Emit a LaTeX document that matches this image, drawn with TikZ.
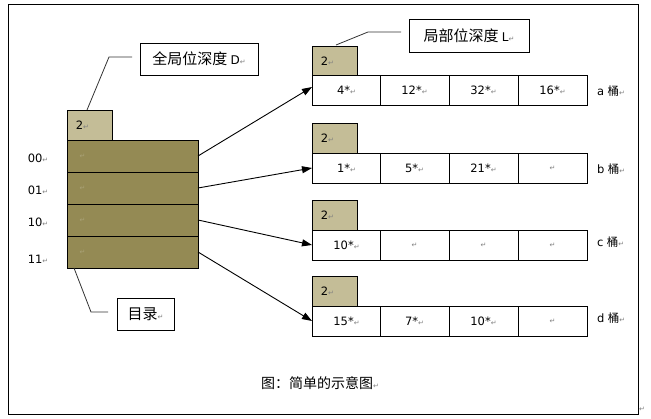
\documentclass[tikz,border=0pt]{standalone}
\usepackage{fontspec}
\setmainfont{DejaVu Sans}
\newfontfamily\cjk{Noto Sans CJK SC}
\newfontfamily\symf{DejaVu Sans}
\usetikzlibrary{arrows.meta}
\definecolor{olivefill}{HTML}{948A54}
\definecolor{tanfill}{HTML}{C4BD97}
\newcommand{\ret}{{\symf\color{gray}\fontsize{7}{8}\selectfont ↵}}
\newcommand{\retd}{{\symf\color{olivefill!80!white}\fontsize{7}{8}\selectfont ↵}}
\tikzset{
  every node/.style={inner sep=0pt, outer sep=0pt},
  cell/.style={draw=black, line width=0.9pt, fill=white, minimum width=69, minimum height=30, anchor=north west, font=\fontsize{11.5}{13}\selectfont},
  depthbox/.style={draw=black, line width=0.9pt, fill=tanfill, minimum width=45, minimum height=30, anchor=north west, font=\fontsize{11.5}{13}\selectfont},
  dirrow/.style={draw=black, line width=0.9pt, fill=olivefill, minimum width=131, minimum height=32, anchor=north west},
  callbox/.style={draw=black, line width=0.9pt, fill=white, anchor=north west, font=\cjk\fontsize{15}{17}\selectfont},
  lbl/.style={font=\fontsize{11.5}{13}\selectfont},
  ptr/.style={line width=0.9pt, -{Triangle[length=10pt,width=7pt]}},
  leader/.style={line width=0.8pt, draw=black!80}
}
\begin{document}
\begin{tikzpicture}[x=1pt,y=-1pt]
\useasboundingbox (0,0) rectangle (651,419);
\draw[line width=0.9pt] (8,4.5) rectangle (638,414);
% directory
\node[depthbox] (gd) at (67,110) {\hspace*{-14pt}2\ret};
\node[dirrow] (d0) at (67,140) {\hspace*{-100pt}\retd};
\node[dirrow] (d1) at (67,172) {\hspace*{-100pt}\retd};
\node[dirrow] (d2) at (67,204) {\hspace*{-100pt}\retd};
\node[dirrow] (d3) at (67,236) {\hspace*{-100pt}\retd};
\node[lbl] (l0) at (38,158) {00\ret};
\node[lbl] (l1) at (38,190) {01\ret};
\node[lbl] (l2) at (38,222) {10\ret};
\node[lbl] (l3) at (38,259) {11\ret};
% callouts
\node[callbox, minimum width=118, minimum height=32] (gdl) at (140,43) {全局位深度 {\rmfamily\fontsize{12}{13}\selectfont D}\ret};
\coordinate (g1) at (109,57);
\coordinate (g2) at (132,57);
\coordinate (gs) at (87,110);
\draw[leader] (gs) -- (g1) -- (g2);
\node[callbox, minimum width=57, minimum height=32] (mul) at (117,298) {目录\ret};
\coordinate (m0) at (74,268);
\coordinate (m1) at (91,312);
\coordinate (m2) at (108,312);
\draw[leader] (m0) -- (m1) -- (m2);
\node[callbox, minimum width=120, minimum height=33] (ldl) at (409,19) {局部位深度 {\rmfamily\fontsize{12}{13}\selectfont L}\ret};
\coordinate (ls) at (336,45);
\coordinate (l1c) at (368,32);
\coordinate (l2c) at (401,32);
\draw[leader] (ls) -- (l1c) -- (l2c);
% bucket a
\node[depthbox] (ad) at (312,46) {\hspace*{-14pt}2\ret};
\node[cell] (a1) at (312,75) {4*\ret};
\node[cell] (a2) at (380,75) {12*\ret};
\node[cell] (a3) at (449,75) {32*\ret};
\node[cell] (a4) at (518,75) {16*\ret};
\node[lbl, anchor=west] (al) at (597,91) {a {\cjk 桶}\ret};
% bucket b
\node[depthbox] (bd) at (312,123) {\hspace*{-14pt}2\ret};
\node[cell] (b1) at (312,153) {1*\ret};
\node[cell] (b2) at (380,153) {5*\ret};
\node[cell] (b3) at (449,153) {21*\ret};
\node[cell] (b4) at (518,153) {\ret};
\node[lbl, anchor=west] (bl) at (597,169) {b {\cjk 桶}\ret};
% bucket c
\node[depthbox] (cd) at (312,200) {\hspace*{-14pt}2\ret};
\node[cell] (c1) at (312,230) {10*\ret};
\node[cell] (c2) at (380,230) {\ret};
\node[cell] (c3) at (449,230) {\ret};
\node[cell] (c4) at (518,230) {\ret};
\node[lbl, anchor=west] (cl) at (597,242) {c {\cjk 桶}\ret};
% bucket d
\node[depthbox] (dd) at (312,276) {\hspace*{-14pt}2\ret};
\node[cell] (e1) at (312,306) {15*\ret};
\node[cell] (e2) at (380,306) {7*\ret};
\node[cell] (e3) at (449,306) {10*\ret};
\node[cell] (e4) at (518,306) {\ret};
\node[lbl, anchor=west] (dl) at (597,318) {d {\cjk 桶}\ret};
% pointers
\draw[ptr] (d0.east) -- ([yshift=3pt]a1.west);
\draw[ptr] (d1.east) -- (b1.west);
\draw[ptr] (d2.east) -- (c1.west);
\draw[ptr] (d3.east) -- (e1.west);
% caption
\node[font=\cjk\fontsize{14}{16}\selectfont] (cap) at (320,383) {图：简单的示意图\ret};
\node (endmark) at (642,409) {\ret};
\end{tikzpicture}
\end{document}
